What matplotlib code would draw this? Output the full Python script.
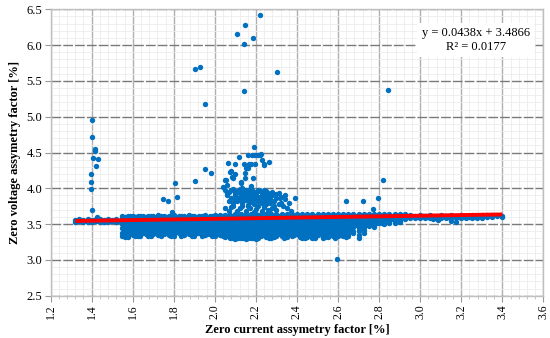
import matplotlib
matplotlib.use("Agg")
import matplotlib.pyplot as plt
from matplotlib.ticker import MultipleLocator, FormatStrFormatter

# ---------------- data ----------------
# isolated high outliers
outlier_x = [1.404, 1.404, 1.416, 1.414, 1.408, 1.429, 1.422, 1.398, 1.395, 1.395, 1.404, 1.424,
             1.904, 1.929, 1.953, 2.107, 2.146, 2.140, 2.187, 2.221, 2.142, 2.301, 2.841,
             1.950, 1.979, 1.901, 1.805, 1.815, 1.747, 1.771, 1.789,
             2.817, 2.638, 2.723, 2.794, 2.769, 2.593, 2.390, 2.317]
outlier_y = [4.96, 4.72, 4.55, 4.52, 4.43, 4.41, 4.31, 4.20, 4.09, 3.99, 3.70, 3.60,
             5.66, 5.69, 5.18, 6.16, 6.28, 6.01, 6.10, 6.42, 5.36, 5.63, 5.37,
             4.27, 4.22, 4.10, 4.08, 3.88, 3.85, 3.82, 3.67,
             4.12, 3.83, 3.83, 3.86, 3.71, 3.02, 3.86, 3.86]

# cluster above the band around x = 2.05 .. 2.35
cluster_x = [2.064, 2.099, 2.119, 2.140, 2.151, 2.163, 2.167, 2.177, 2.182, 2.189, 2.194, 2.197,
             2.208, 2.218, 2.223, 2.229, 2.237, 2.240, 2.265, 2.073, 2.096, 2.087, 2.145, 2.148,
             2.128, 2.051, 2.057, 2.187, 2.041, 2.125, 2.077, 2.085, 2.054, 2.160, 2.175,
             2.05, 2.07, 2.09, 2.11, 2.13, 2.15, 2.17, 2.19, 2.21, 2.23, 2.25,
             2.06, 2.08, 2.10, 2.12, 2.14, 2.16, 2.18, 2.20, 2.22, 2.24, 2.26, 2.28, 2.30, 2.32, 2.34,
             2.07, 2.09, 2.11, 2.13, 2.15, 2.17, 2.19, 2.21, 2.23, 2.25, 2.27, 2.29, 2.31,
             2.08, 2.12, 2.16, 2.20, 2.24, 2.28, 2.05, 2.33, 2.36, 2.14, 2.18, 2.22, 2.26,
             2.10, 2.14, 2.18, 2.22, 2.16, 2.20, 2.12, 2.24, 2.27, 2.30,
             2.06, 2.08, 2.10, 2.12, 2.14, 2.16, 2.18, 2.20, 2.22, 2.24, 2.26,
             2.11, 2.13, 2.15, 2.17, 2.19, 2.21, 2.23, 2.25, 2.09, 2.13, 2.17, 2.21,
             2.26, 2.30, 2.32, 2.34, 2.35, 2.37, 2.07, 2.11, 2.15, 2.19, 2.23, 2.27,
             2.28, 2.31, 2.29]
cluster_y = [4.35, 4.34, 4.44, 4.34, 4.29, 4.46, 4.34, 4.34, 4.46, 4.58, 4.46, 4.34,
             4.46, 4.46, 4.48, 4.39, 4.32, 4.34, 4.37, 4.23, 4.20, 4.15, 4.22, 4.15,
             4.09, 4.12, 4.05, 4.15, 4.02, 4.08, 4.24, 4.16, 4.12, 4.28, 4.03,
             3.98, 3.95, 3.99, 3.96, 4.00, 3.97, 3.99, 3.95, 3.98, 3.94, 3.96,
             3.90, 3.87, 3.91, 3.88, 3.92, 3.89, 3.86, 3.90, 3.87, 3.91, 3.88, 3.90, 3.86, 3.88, 3.85,
             3.82, 3.79, 3.83, 3.80, 3.84, 3.81, 3.78, 3.82, 3.79, 3.83, 3.80, 3.82, 3.78,
             3.74, 3.72, 3.75, 3.71, 3.74, 3.72, 3.72, 3.75, 3.80, 3.93, 3.92, 3.85, 3.93,
             3.85, 3.86, 3.82, 3.88, 3.77, 3.85, 3.94, 3.97, 3.85, 3.92,
             3.94, 3.97, 3.93, 3.99, 3.95, 3.93, 3.97, 3.93, 3.96, 3.88, 3.84,
             3.86, 3.84, 3.87, 3.84, 3.88, 3.85, 3.83, 3.78, 3.76, 3.76, 3.73, 3.76,
             3.70, 3.70, 3.80, 3.90, 3.72, 3.68, 3.68, 3.69, 3.68, 3.67, 3.69, 3.66,
             3.95, 3.93, 3.76]

# main band: one x value per column, y values read in that column
band_x = [1.32, 1.34, 1.36, 1.38, 1.40, 1.42, 1.44, 1.46, 1.48, 1.50, 1.52,
          1.55, 1.575, 1.60, 1.625, 1.65, 1.675, 1.70, 1.725, 1.75, 1.775, 1.80, 1.825,
          1.85, 1.875, 1.90, 1.925, 1.95, 1.975, 2.00, 2.025, 2.05,
          2.075, 2.10, 2.125, 2.15, 2.175, 2.20, 2.225, 2.25, 2.275, 2.30, 2.325, 2.35, 2.375, 2.40,
          2.425, 2.45, 2.475, 2.50, 2.525, 2.55, 2.575, 2.60, 2.625, 2.65, 2.675, 2.70, 2.725,
          2.75, 2.775, 2.80, 2.825, 2.85, 2.875, 2.90, 2.925,
          2.95, 2.975, 3.00, 3.025, 3.05, 3.075, 3.10, 3.125, 3.15, 3.175, 3.20, 3.225, 3.25,
          3.275, 3.30, 3.325, 3.35, 3.375, 3.40]
band_y = [
    [3.53, 3.56], [3.54, 3.565], [3.53, 3.56], [3.535, 3.57], [3.53, 3.56], [3.54, 3.57],
    [3.53, 3.565], [3.535, 3.56], [3.53, 3.57], [3.54, 3.56], [3.53, 3.57],
    [3.54, 3.58, 3.62, 3.50, 3.44, 3.38, 3.34],
    [3.55, 3.59, 3.62, 3.51, 3.45, 3.41, 3.36, 3.32],
    [3.53, 3.57, 3.61, 3.49, 3.43, 3.39, 3.35],
    [3.54, 3.58, 3.62, 3.50, 3.44, 3.40, 3.36, 3.33],
    [3.55, 3.59, 3.62, 3.51, 3.46, 3.41, 3.37],
    [3.53, 3.57, 3.61, 3.49, 3.43, 3.38, 3.34],
    [3.54, 3.58, 3.62, 3.50, 3.45, 3.40, 3.36],
    [3.55, 3.59, 3.63, 3.51, 3.44, 3.39, 3.35],
    [3.53, 3.57, 3.61, 3.49, 3.43, 3.38, 3.36],
    [3.54, 3.58, 3.62, 3.50, 3.44, 3.40, 3.35],
    [3.55, 3.59, 3.63, 3.51, 3.45, 3.41, 3.37, 3.34],
    [3.53, 3.57, 3.61, 3.49, 3.43, 3.38],
    [3.54, 3.58, 3.62, 3.50, 3.44, 3.39, 3.35],
    [3.55, 3.59, 3.63, 3.51, 3.45, 3.40, 3.36],
    [3.53, 3.57, 3.62, 3.49, 3.44, 3.38, 3.34],
    [3.54, 3.58, 3.62, 3.50, 3.45, 3.41, 3.37],
    [3.55, 3.59, 3.63, 3.51, 3.43, 3.39, 3.35],
    [3.53, 3.57, 3.62, 3.49, 3.44, 3.40, 3.36],
    [3.54, 3.58, 3.63, 3.50, 3.45, 3.41, 3.37, 3.34],
    [3.55, 3.59, 3.63, 3.51, 3.44, 3.39, 3.35],
    [3.54, 3.58, 3.63, 3.50, 3.45, 3.40, 3.36, 3.32],
    [3.55, 3.59, 3.63, 3.51, 3.46, 3.42, 3.38, 3.34, 3.31],
    [3.54, 3.58, 3.64, 3.50, 3.45, 3.41, 3.37, 3.33, 3.29],
    [3.55, 3.60, 3.64, 3.51, 3.46, 3.42, 3.38, 3.34, 3.30],
    [3.54, 3.59, 3.64, 3.50, 3.45, 3.41, 3.36, 3.32, 3.29],
    [3.55, 3.60, 3.64, 3.51, 3.46, 3.42, 3.38, 3.34, 3.30],
    [3.54, 3.59, 3.64, 3.50, 3.45, 3.40, 3.36, 3.32, 3.29],
    [3.55, 3.60, 3.64, 3.51, 3.46, 3.42, 3.37, 3.33],
    [3.54, 3.59, 3.64, 3.50, 3.45, 3.41, 3.36, 3.32],
    [3.55, 3.60, 3.64, 3.51, 3.46, 3.42, 3.38, 3.34, 3.31],
    [3.54, 3.59, 3.64, 3.50, 3.45, 3.41, 3.37, 3.33],
    [3.55, 3.60, 3.64, 3.51, 3.46, 3.42, 3.38, 3.34],
    [3.54, 3.59, 3.64, 3.50, 3.45, 3.40, 3.36, 3.32],
    [3.55, 3.60, 3.64, 3.51, 3.46, 3.42, 3.37, 3.33],
    [3.54, 3.59, 3.64, 3.50, 3.45, 3.41, 3.36],
    [3.55, 3.60, 3.64, 3.51, 3.46, 3.42, 3.38, 3.34, 3.31],
    [3.54, 3.59, 3.64, 3.50, 3.45, 3.40, 3.36, 3.32],
    [3.55, 3.60, 3.64, 3.51, 3.46, 3.42, 3.37, 3.33, 3.30],
    [3.54, 3.59, 3.64, 3.50, 3.44, 3.40, 3.35],
    [3.55, 3.60, 3.64, 3.51, 3.46, 3.41, 3.37, 3.33, 3.30],
    [3.54, 3.59, 3.64, 3.50, 3.45, 3.40, 3.36, 3.32],
    [3.55, 3.60, 3.64, 3.51, 3.46, 3.42, 3.38, 3.34],
    [3.54, 3.59, 3.64, 3.50, 3.45, 3.41, 3.36, 3.33],
    [3.55, 3.60, 3.64, 3.51, 3.46, 3.42, 3.37, 3.34],
    [3.54, 3.59, 3.64, 3.50, 3.45, 3.40, 3.36, 3.33],
    [3.55, 3.60, 3.64, 3.51, 3.46, 3.41, 3.38],
    [3.54, 3.59, 3.64, 3.50, 3.45, 3.40, 3.35, 3.31],
    [3.55, 3.60, 3.64, 3.51, 3.46, 3.42, 3.37],
    [3.55, 3.60, 3.64, 3.51, 3.47],
    [3.54, 3.59, 3.64, 3.50, 3.46],
    [3.55, 3.60, 3.64, 3.51],
    [3.54, 3.59, 3.64, 3.50],
    [3.55, 3.60, 3.64, 3.52],
    [3.56, 3.60, 3.64, 3.52],
    [3.56, 3.60, 3.64, 3.53],
    [3.57, 3.61, 3.64],
    [3.59, 3.63], [3.58, 3.62], [3.59, 3.63], [3.58, 3.62], [3.59, 3.63], [3.58, 3.62],
    [3.59, 3.63], [3.58, 3.62], [3.59, 3.63, 3.55], [3.58, 3.62, 3.53], [3.59, 3.63],
    [3.58, 3.62], [3.59, 3.63], [3.58, 3.62], [3.59, 3.63], [3.60, 3.63], [3.60, 3.63],
    [3.61], [3.60, 3.62],
]

# intermediate columns of the band (between the columns above)
band_mid_x = [1.33, 1.35, 1.37, 1.39, 1.41, 1.43, 1.45, 1.47, 1.49, 1.51, 1.53,
              1.5625, 1.5875, 1.6125, 1.6375, 1.6625, 1.6875, 1.7125, 1.7375, 1.7625, 1.7875,
              1.8125, 1.8375, 1.8625, 1.8875, 1.9125, 1.9375, 1.9625, 1.9875, 2.0125, 2.0375, 2.0625,
              2.0875, 2.1125, 2.1375, 2.1625, 2.1875, 2.2125, 2.2375, 2.2625, 2.2875, 2.3125,
              2.3375, 2.3625, 2.3875, 2.4125,
              2.4375, 2.4625, 2.4875, 2.5125, 2.5375, 2.5625, 2.5875, 2.6125, 2.6375, 2.6625,
              2.6875, 2.7125, 2.7375,
              2.7625, 2.7875, 2.8125, 2.8375, 2.8625, 2.8875, 2.9125, 2.9375,
              2.9625, 2.9875, 3.0125, 3.0375, 3.0625, 3.0875, 3.1125, 3.1375, 3.1625, 3.1875,
              3.2125, 3.2375, 3.2625, 3.2875, 3.3125, 3.3375, 3.3625, 3.3875]
band_mid_y = [
    [3.545], [3.55], [3.545], [3.55], [3.545], [3.55], [3.545], [3.55], [3.545], [3.55], [3.55],
    [3.52, 3.56, 3.60, 3.47, 3.42, 3.36, 3.32],
    [3.52, 3.57, 3.61, 3.48, 3.43, 3.38],
    [3.52, 3.56, 3.60, 3.47, 3.41, 3.37, 3.33],
    [3.53, 3.57, 3.61, 3.48, 3.42, 3.38, 3.34],
    [3.52, 3.56, 3.60, 3.47, 3.43, 3.36],
    [3.52, 3.57, 3.61, 3.48, 3.42, 3.37, 3.33],
    [3.53, 3.56, 3.60, 3.47, 3.41, 3.38],
    [3.52, 3.57, 3.61, 3.48, 3.43, 3.37, 3.34],
    [3.52, 3.56, 3.60, 3.47, 3.42, 3.38],
    [3.53, 3.57, 3.61, 3.48, 3.41, 3.36, 3.33],
    [3.52, 3.56, 3.60, 3.47, 3.43, 3.39],
    [3.52, 3.57, 3.61, 3.48, 3.42, 3.36, 3.34],
    [3.53, 3.56, 3.60, 3.47, 3.41, 3.37],
    [3.52, 3.57, 3.61, 3.48, 3.43, 3.38, 3.33],
    [3.52, 3.56, 3.60, 3.47, 3.42, 3.37],
    [3.53, 3.57, 3.61, 3.48, 3.41, 3.39, 3.34],
    [3.52, 3.56, 3.60, 3.47, 3.43, 3.36],
    [3.52, 3.57, 3.61, 3.48, 3.42, 3.38, 3.33],
    [3.53, 3.56, 3.61, 3.47, 3.41, 3.37],
    [3.52, 3.57, 3.61, 3.48, 3.43, 3.38, 3.34],
    [3.52, 3.57, 3.61, 3.48, 3.42, 3.38, 3.33],
    [3.52, 3.57, 3.62, 3.48, 3.43, 3.39, 3.35, 3.31],
    [3.53, 3.57, 3.62, 3.48, 3.44, 3.40, 3.35, 3.31],
    [3.52, 3.57, 3.62, 3.48, 3.43, 3.39, 3.35, 3.30],
    [3.53, 3.57, 3.62, 3.48, 3.44, 3.40, 3.36, 3.31],
    [3.52, 3.57, 3.62, 3.48, 3.43, 3.39, 3.35, 3.30],
    [3.53, 3.57, 3.62, 3.48, 3.44, 3.40, 3.36, 3.31],
    [3.52, 3.57, 3.62, 3.48, 3.43, 3.39, 3.35],
    [3.53, 3.57, 3.62, 3.48, 3.44, 3.40, 3.36, 3.31],
    [3.52, 3.57, 3.62, 3.48, 3.43, 3.39, 3.35, 3.32],
    [3.53, 3.57, 3.62, 3.48, 3.44, 3.40, 3.36],
    [3.52, 3.57, 3.62, 3.48, 3.43, 3.39, 3.35, 3.31],
    [3.53, 3.57, 3.62, 3.48, 3.44, 3.40, 3.36],
    [3.52, 3.57, 3.62, 3.48, 3.43, 3.39, 3.35],
    [3.53, 3.57, 3.62, 3.48, 3.44, 3.40, 3.35, 3.32],
    [3.52, 3.57, 3.62, 3.48, 3.43, 3.39, 3.35, 3.31],
    [3.53, 3.57, 3.62, 3.48, 3.44, 3.40, 3.36],
    [3.52, 3.57, 3.62, 3.48, 3.43, 3.39, 3.35, 3.31],
    [3.53, 3.57, 3.62, 3.48, 3.44, 3.40, 3.36],
    [3.52, 3.57, 3.62, 3.48, 3.43, 3.39, 3.35, 3.32],
    [3.53, 3.57, 3.62, 3.48, 3.44, 3.40, 3.35],
    [3.52, 3.57, 3.62, 3.48, 3.43, 3.39, 3.36, 3.31],
    [3.53, 3.57, 3.62, 3.48, 3.44, 3.40, 3.35],
    [3.52, 3.57, 3.62, 3.48, 3.43, 3.39, 3.36, 3.32],
    [3.53, 3.57, 3.62, 3.48, 3.44],
    [3.53, 3.57, 3.62, 3.49],
    [3.53, 3.57, 3.62, 3.49],
    [3.53, 3.57, 3.62, 3.49],
    [3.53, 3.58, 3.62, 3.50],
    [3.54, 3.58, 3.62, 3.51],
    [3.54, 3.58, 3.62, 3.51],
    [3.55, 3.59, 3.62],
    [3.57, 3.61],
    [3.605], [3.61], [3.605], [3.61], [3.605], [3.61], [3.605], [3.57, 3.61], [3.56, 3.605],
    [3.61], [3.605], [3.61], [3.605], [3.61], [3.605], [3.615], [3.61], [3.615],
]

# Excel linear trendline
trend_slope = 0.0438
trend_intercept = 3.4866
r_squared = 0.0177

x_ticks = [1.2, 1.4, 1.6, 1.8, 2.0, 2.2, 2.4, 2.6, 2.8, 3.0, 3.2, 3.4, 3.6]
y_ticks = [2.5, 3.0, 3.5, 4.0, 4.5, 5.0, 5.5, 6.0, 6.5]

# ---------------- plotting ----------------
plt.rcParams['font.family'] = ['Liberation Serif', 'DejaVu Serif']

fig = plt.figure(figsize=(5.5, 3.38), dpi=100)
ax = fig.add_axes([0.092, 0.125, 0.896, 0.8475])

bx, by = [], []
for cols_x, cols_y in ((band_x, band_y), (band_mid_x, band_mid_y)):
    for xv, ys in zip(cols_x, cols_y):
        for yv in ys:
            bx.append(xv)
            by.append(yv)

all_x = bx + cluster_x + outlier_x
all_y = by + cluster_y + outlier_y
ax.scatter(all_x, all_y, s=15, color='#0070C0', linewidths=0, zorder=3)

xmin, xmax = min(all_x), max(all_x)
ax.plot([xmin, xmax], [trend_slope * xmin + trend_intercept, trend_slope * xmax + trend_intercept],
        color='#FF0000', lw=2.8, zorder=4, solid_capstyle='butt')

ax.set_xlim(1.2, 3.6)
ax.set_ylim(2.5, 6.5)
ax.set_xticks(x_ticks)
ax.set_yticks(y_ticks)
ax.xaxis.set_minor_locator(MultipleLocator(0.04))
ax.yaxis.set_minor_locator(MultipleLocator(0.1))
ax.xaxis.set_major_formatter(FormatStrFormatter('%.1f'))
ax.yaxis.set_major_formatter(FormatStrFormatter('%.1f'))

ax.grid(which='minor', color='#ececec', lw=0.6, zorder=0)
ax.grid(which='major', axis='x', color='#b0b0b0', lw=1.0, zorder=1)
ax.grid(which='major', axis='y', color='#7a7a7a', lw=1.0, linestyle=(0, (7, 1.5)), zorder=1)
ax.set_axisbelow(True)

for sp in ax.spines.values():
    sp.set_color('#bfbfbf')
    sp.set_linewidth(1.0)

ax.tick_params(axis='x', which='major', labelsize=8.5, labelrotation=90, length=4, color='#999999', pad=2)
ax.tick_params(axis='x', which='minor', length=2, color='#bbbbbb')
ax.tick_params(axis='y', which='major', labelsize=9, length=4, color='#999999', pad=2)
ax.tick_params(axis='y', which='minor', length=0)

ax.set_xlabel('Zero current assymetry factor [%]', fontsize=9, fontweight='bold', labelpad=4)
ax.set_ylabel('Zero voltage assymetry factor [%]', fontsize=9, fontweight='bold', labelpad=4)

ax.text(3.27, 6.07, 'y = 0.0438x + 3.4866\nR² = 0.0177', ha='center', va='center',
        fontsize=9, linespacing=1.25, zorder=5,
        bbox=dict(facecolor='white', edgecolor='none', pad=3))

fig.savefig('out.png', dpi=100)
